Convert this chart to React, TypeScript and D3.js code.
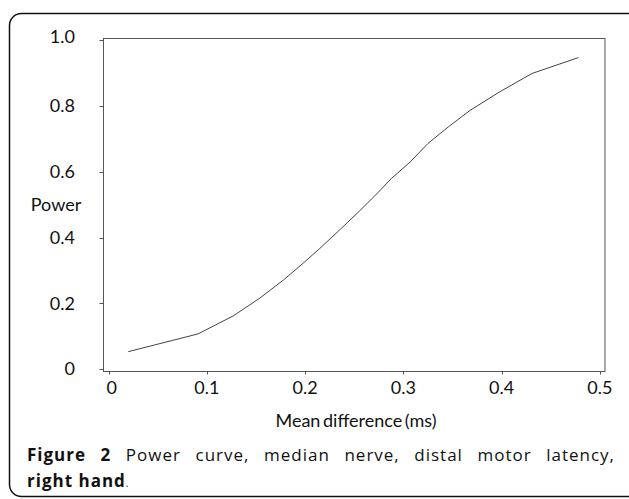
import { useEffect, useRef } from 'react';
import * as d3 from 'd3';

// mean difference (ms)
const meanDiff = [
  0.02, 0.091, 0.127, 0.154, 0.178, 0.198, 0.215, 0.234, 0.253,
  0.27, 0.288, 0.307, 0.325, 0.346, 0.368, 0.398, 0.431, 0.478,
];
// power at each mean difference
const power = [
  0.053, 0.107, 0.162, 0.216, 0.271, 0.322, 0.367, 0.42, 0.474,
  0.524, 0.58, 0.63, 0.686, 0.737, 0.787, 0.843, 0.899, 0.947,
];

const xTicks = [0, 0.1, 0.2, 0.3, 0.4, 0.5];
const xTickLabels = ['0', '0.1', '0.2', '0.3', '0.4', '0.5'];
const yTicks = [0, 0.2, 0.4, 0.6, 0.8, 1.0];
const yTickLabels = ['0', '0.2', '0.4', '0.6', '0.8', '1.0'];

const captionBold = 'Figure 2';
const captionRest = ' Power curve, median nerve, distal motor latency,';
const captionLine2Bold = 'right hand';

const App = () => {
  const svgRef = useRef(null);

  useEffect(() => {
    const W = 629;
    const H = 499;
    const svg = d3.select(svgRef.current);
    svg.selectAll('*').remove();
    svg.attr('width', W).attr('height', H);

    const chartFont = 'Lato, "Open Sans", sans-serif';
    const capFont = '"Open Sans", "Noto Sans", sans-serif';
    const chartSize = '18px';

    // outer rounded box (runs off the right edge)
    svg
      .append('rect')
      .attr('x', 9.5)
      .attr('y', 13.5)
      .attr('width', 640)
      .attr('height', 483)
      .attr('rx', 12)
      .attr('fill', 'none')
      .attr('stroke', '#111')
      .attr('stroke-width', 1.5);

    // plot frame
    const left = 103.5;
    const right = 605;
    const top = 38.5;
    const bottom = 371.5;

    const x = d3.scaleLinear().domain([-0.0052, 0.5052]).range([left, right]);
    const y = d3.scaleLinear().domain([-0.0073, 1.0052]).range([bottom, top]);

    svg
      .append('rect')
      .attr('x', left)
      .attr('y', top)
      .attr('width', right - left)
      .attr('height', bottom - top)
      .attr('fill', 'none')
      .attr('stroke', '#555')
      .attr('stroke-width', 1);

    // y ticks
    yTicks.forEach((t, i) => {
      svg
        .append('line')
        .attr('x1', left - 4)
        .attr('x2', left)
        .attr('y1', Math.round(y(t)) + 0.5)
        .attr('y2', Math.round(y(t)) + 0.5)
        .attr('stroke', '#555');
      svg
        .append('text')
        .attr('x', 75)
        .attr('y', y(t) - (i === yTicks.length - 1 ? 4 : 0))
        .attr('dy', '0.35em')
        .attr('text-anchor', 'end')
        .attr('fill', '#111')
        .style('font-family', chartFont)
        .style('font-size', chartSize)
        .text(yTickLabels[i]);
    });

    // x ticks
    xTicks.forEach((t, i) => {
      svg
        .append('line')
        .attr('x1', Math.round(x(t)) + 0.5)
        .attr('x2', Math.round(x(t)) + 0.5)
        .attr('y1', bottom)
        .attr('y2', bottom + 3)
        .attr('stroke', '#555');
      svg
        .append('text')
        .attr('x', x(t) + (i === 0 ? 3 : 0))
        .attr('y', 394)
        .attr('text-anchor', 'middle')
        .attr('fill', '#111')
        .style('font-family', chartFont)
        .style('font-size', chartSize)
        .text(xTickLabels[i]);
    });

    // axis titles
    svg
      .append('text')
      .attr('x', 56)
      .attr('y', y(0.5))
      .attr('dy', '0.35em')
      .attr('text-anchor', 'middle')
      .attr('fill', '#111')
      .style('font-family', chartFont)
      .style('font-size', chartSize)
      .text('Power');

    svg
      .append('text')
      .attr('x', 356)
      .attr('y', 427)
      .attr('text-anchor', 'middle')
      .attr('fill', '#111')
      .style('font-family', chartFont)
      .style('font-size', chartSize)
      .style('word-spacing', '-2px')
      .text('Mean difference (ms)');

    // the curve
    const pts = meanDiff.map((d, i) => [d, power[i]]);
    const line = d3
      .line()
      .x((d) => x(d[0]))
      .y((d) => y(d[1]));

    svg
      .append('path')
      .datum(pts)
      .attr('d', line)
      .attr('fill', 'none')
      .attr('stroke', '#444')
      .attr('stroke-width', 1);

    // caption, first line justified by widening the word gaps
    const capX = 27;
    const capWidth = 588;
    const capSize = '17px';
    const capSpacing = '1px';
    const cap1 = svg
      .append('text')
      .attr('x', capX)
      .attr('y', 461)
      .attr('fill', '#111')
      .style('font-family', capFont)
      .style('font-size', capSize)
      .style('letter-spacing', capSpacing);
    cap1.append('tspan').style('font-weight', 'bold').text(captionBold);
    cap1.append('tspan').text(captionRest);
    const natural = cap1.node().getComputedTextLength();
    const gaps = (captionBold + captionRest).split(' ').length - 1;
    if (natural < capWidth) {
      cap1.style('word-spacing', `${(capWidth - natural) / gaps}px`);
    }

    const cap2 = svg
      .append('text')
      .attr('x', capX)
      .attr('y', 487)
      .attr('fill', '#111')
      .style('font-family', capFont)
      .style('font-size', capSize)
      .style('letter-spacing', capSpacing);
    cap2.append('tspan').style('font-weight', 'bold').text(captionLine2Bold);
    cap2.append('tspan').style('font-size', '10px').text('.');
  }, []);

  return (
    <svg
      ref={svgRef}
      style={{ position: 'absolute', left: 0, top: 0, background: '#fff' }}
    ></svg>
  );
};

export default App;
